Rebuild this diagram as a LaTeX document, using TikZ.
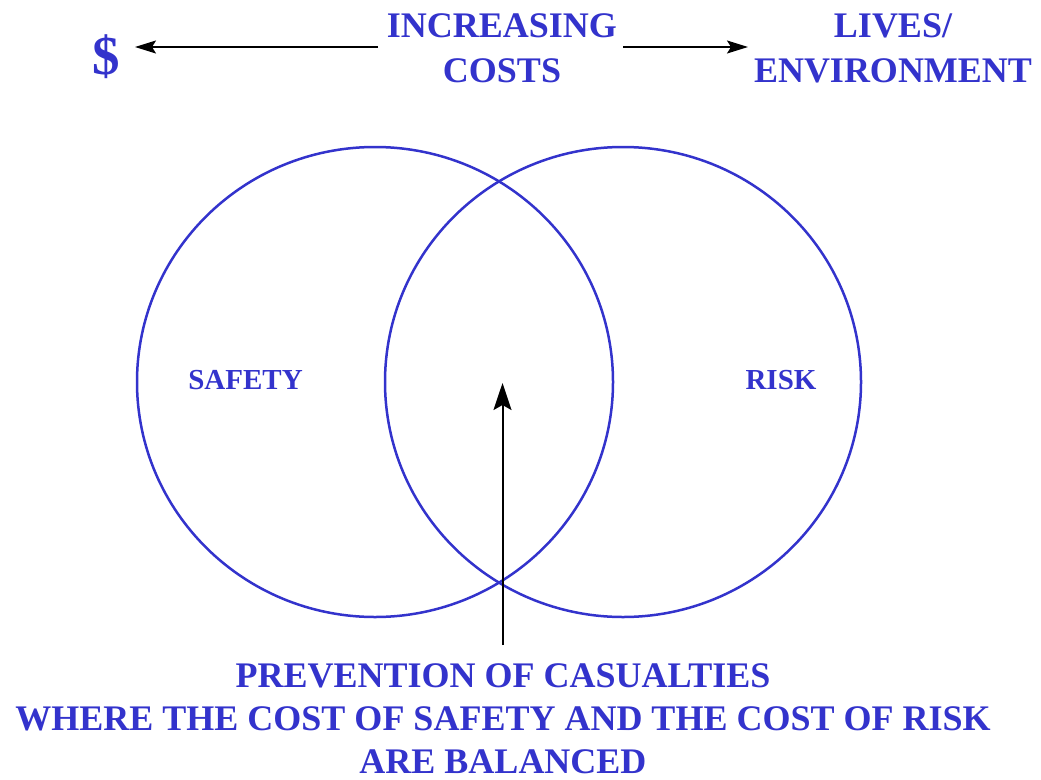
\documentclass[tikz,border=0pt]{standalone}
\usepackage{fontspec}
\setmainfont{Liberation Serif}
\usetikzlibrary{arrows.meta,shapes.geometric}
\definecolor{vblue}{HTML}{3333CC}
\tikzset{
  lbl/.style={text=vblue, font=\bfseries\fontsize{36}{43}\selectfont, anchor=base, inner sep=0pt},
  small/.style={text=vblue, font=\bfseries\fontsize{29}{34}\selectfont, anchor=base, inner sep=0pt},
  venn/.style={draw=vblue, line width=2.5pt, ellipse, minimum width=476pt, minimum height=470pt, inner sep=0pt},
  harrow/.style={draw=black, line width=1.5pt, -{Stealth[length=21pt,width=13pt,inset=4pt]}},
  varrow/.style={draw=black, line width=2pt, -{Stealth[length=27pt,width=18pt,inset=5pt]}}
}
\begin{document}
\begin{tikzpicture}[x=1pt,y=-1pt]
\useasboundingbox (0,0) rectangle (1041,779);
% top texts
\node[text=vblue, font=\bfseries\fontsize{55}{60}\selectfont, anchor=base, inner sep=0pt] (dollar) at (106,74) {\$};
\node[lbl] (inc1) at (502,37) {INCREASING};
\node[lbl] (inc2) at (502,82) {COSTS};
\node[lbl] (liv1) at (893,37) {LIVES/};
\node[lbl] (liv2) at (893,82) {ENVIRONMENT};
\coordinate (la) at (378,47);
\coordinate (lt) at (135,47);
\coordinate (ra) at (623,47);
\coordinate (rt) at (748,47);
\draw[harrow] (la) -- (lt);
\draw[harrow] (ra) -- (rt);
% circles
\node[venn] (safe) at (375,382) {};
\node[venn] (risk) at (623,382) {};
\node[small] (safety) at (245.5,389) {SAFETY};
\node[small] (risklbl) at (781,389) {RISK};
% vertical arrow
\coordinate (vb) at (502.5,645);
\coordinate (vt) at (502.5,383);
\draw[varrow] (vb) -- (vt);
% bottom texts
\node[lbl] (b1) at (503,687) {PREVENTION OF CASUALTIES};
\node[lbl] (b2) at (503,730) {WHERE THE COST OF SAFETY AND THE COST OF RISK};
\node[lbl] (b3) at (503,773) {ARE BALANCED};
\end{tikzpicture}
\end{document}
